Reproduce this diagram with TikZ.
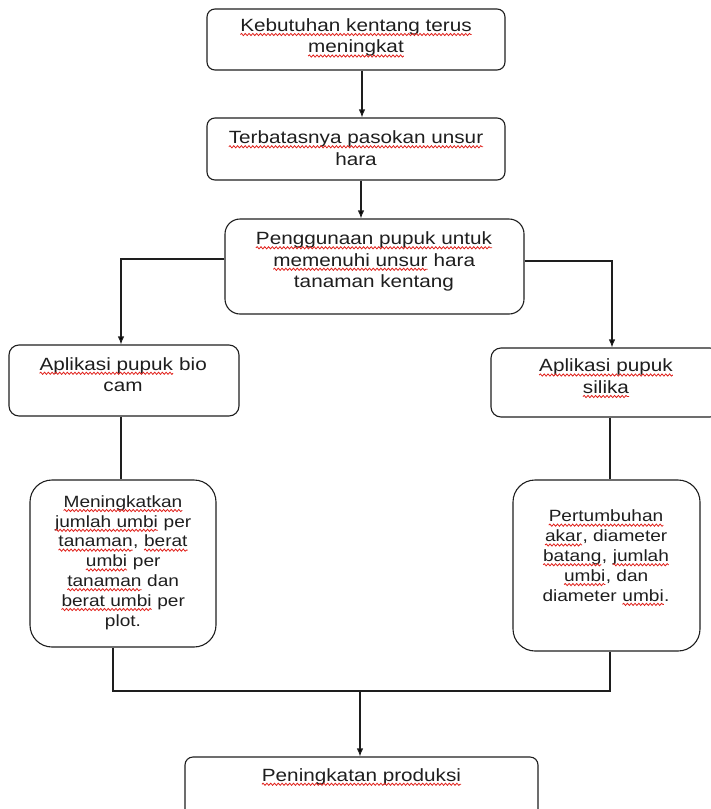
\documentclass[tikz,border=0pt]{standalone}
\usepackage{fontspec}
\setmainfont{Liberation Sans}[FakeStretch=1.17]
\usetikzlibrary{arrows.meta,decorations.pathmorphing}
\definecolor{ink}{HTML}{1E1E1E}
\definecolor{spell}{HTML}{E0201A}
\newcommand\sq[1]{\tikz[baseline=(w.base)]{\node[inner sep=0pt,outer sep=0pt,anchor=base](w){#1};\draw[spell,line width=0.8pt,decorate,decoration={snake,amplitude=1.1pt,segment length=3.8pt}] ([yshift=-3.2pt]w.base west) -- ([yshift=-3.2pt]w.base east);}}
\begin{document}
\begin{tikzpicture}[x=1pt,y=-1pt,
  boxs/.style={draw=ink,line width=1.1pt,inner sep=0pt,rectangle},
  txt/.style={text=ink,align=center,inner sep=0pt,font=\fontsize{17.7}{21.5}\selectfont},
  txtsmall/.style={text=ink,align=center,inner sep=0pt,font=\fontsize{16.3}{19.8}\selectfont},
  conn/.style={draw=ink,line width=1.1pt},
  arr/.style={conn,-{Latex[length=8pt,width=6.5pt]}}]
\useasboundingbox (0,0) rectangle (710,809);
% boxes
\node[boxs,rounded corners=8pt,minimum width=298pt,minimum height=61pt] (b1) at (356,39.5) {};
\node[boxs,rounded corners=8pt,minimum width=298pt,minimum height=62pt] (b2) at (356,149) {};
\node[boxs,rounded corners=15pt,minimum width=299pt,minimum height=95pt] (b3) at (374.5,266.5) {};
\node[boxs,rounded corners=10pt,minimum width=230pt,minimum height=71pt] (b4) at (124,380.5) {};
\node[boxs,rounded corners=10pt,minimum width=229pt,minimum height=69pt] (b5) at (605.5,382.5) {};
\node[boxs,rounded corners=22pt,minimum width=186pt,minimum height=167pt] (b6) at (123,563.5) {};
\node[boxs,rounded corners=22pt,minimum width=187pt,minimum height=171pt] (b7) at (606.5,565.5) {};
\node[boxs,rounded corners=8pt,minimum width=353pt,minimum height=63pt] (b8) at (361.5,788.5) {};
% texts
\node[txt] (t1) at (356,38) {\sq{Kebutuhan kentang terus}\\\sq{meningkat}};
\node[txt] (t2) at (356,148) {\sq{Terbatasnya pasokan unsur}\\hara};
\node[txt] (t3) at (374,261.5) {\sq{Penggunaan pupuk untuk}\\\sq{memenuhi unsur} hara\\tanaman kentang};
\node[txt] (t4) at (123,374.5) {\sq{Aplikasi pupuk} bio\\cam};
\node[txt] (t5) at (606,378.5) {\sq{Aplikasi pupuk}\\\sq{silika}};
\node[txtsmall] (t6) at (123,562.5) {\sq{Meningkatkan}\\\sq{jumlah umbi} per\\\sq{tanaman}, \sq{berat}\\\sq{umbi} per\\\sq{tanaman} dan\\\sq{berat umbi} per\\plot.};
\node[txtsmall] (t7) at (606,558) {\sq{Pertumbuhan}\\\sq{akar}, diameter\\\sq{batang}, \sq{jumlah}\\\sq{umbi}, dan\\diameter \sq{umbi}.};
\node[txt] (t8) at (361.5,777) {\sq{Peningkatan produksi}};
% junction coordinates
\coordinate (ja) at (362,0);
\coordinate (jb) at (361,0);
\coordinate (jl) at (121,259);
\coordinate (jr) at (612,261);
\coordinate (jl2) at (113,691);
\coordinate (jr2) at (610,691);
\coordinate (jm) at (360,691);
% connectors
\draw[arr] (ja |- b1.south) -- (ja |- b2.north);
\draw[arr] (jb |- b2.south) -- (jb |- b3.north);
\draw[arr] (b3.west |- jl) -- (jl) -- (jl |- b4.north);
\draw[arr] (b3.east |- jr) -- (jr) -- (jr |- b5.north);
\draw[conn] (jl |- b4.south) -- (jl |- b6.north);
\draw[conn] (jr2 |- b5.south) -- (jr2 |- b7.north);
\draw[conn] (jl2 |- b6.south) -- (jl2) -- (jr2) -- (jr2 |- b7.south);
\draw[arr] (jm) -- (jm |- b8.north);
\end{tikzpicture}
\end{document}
